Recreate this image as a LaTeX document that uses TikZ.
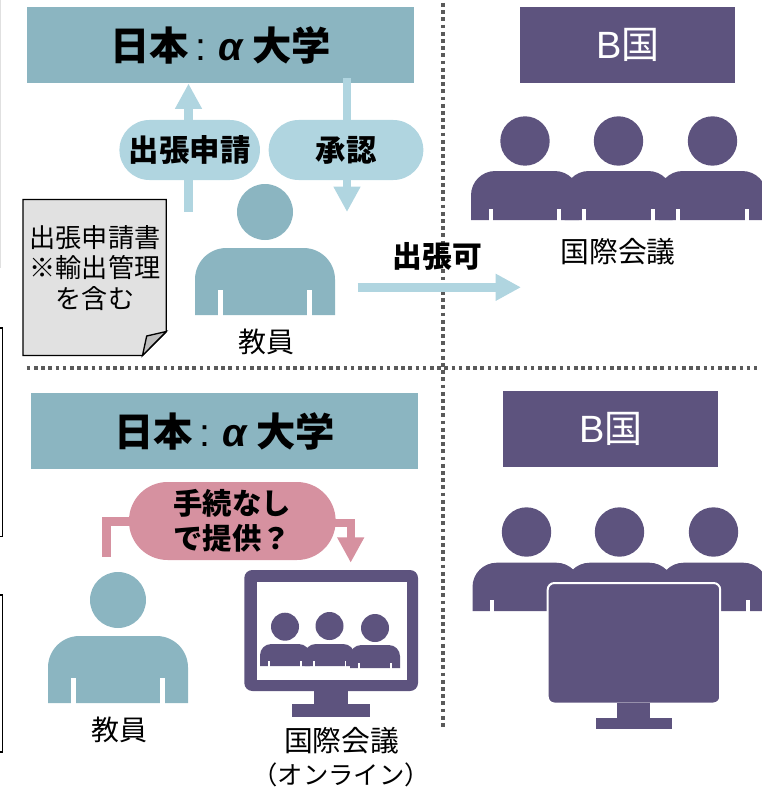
\documentclass[tikz,border=0pt]{standalone}
\usepackage{amsmath}
\usepackage{fontspec}
\usetikzlibrary{arrows.meta}
\setmainfont{Noto Sans CJK JP}
\newfontfamily\latinfont{Liberation Sans}
% cx, head y, head radius, body top, half width, body bottom, slit height, colour style
\newcommand{\personicon}[8]{%
\fill [#8] (#1,#2) circle (#3);
\fill [#8] ({#1-#5},#6) -- ({#1-#5},{#4+.45*#5}) .. controls ({#1-#5},{#4+.2*#5}) and ({#1-.8*#5},#4) .. ({#1-.55*#5},#4) -- ({#1+.55*#5},#4) .. controls ({#1+.8*#5},#4) and ({#1+#5},{#4+.2*#5}) .. ({#1+#5},{#4+.45*#5}) -- ({#1+#5},#6) -- cycle;
\fill [white] ({#1-.67*#5},{#6-#7}) rectangle ({#1-.6*#5},{#6+1});
\fill [white] ({#1+.6*#5},{#6-#7}) rectangle ({#1+.67*#5},{#6+1});
}
\begin{document}
\begin{tikzpicture}[x=0.75pt,y=0.75pt,yscale=-1,xscale=1,
  tealc/.style={fill={rgb, 255:red, 139; green, 181; blue, 193 }},
  purplec/.style={fill={rgb, 255:red, 93; green, 83; blue, 126 }},
  japanbox/.style={tealc,anchor=north west,inner sep=0pt,minimum width=290.25pt,minimum height=57pt,font=\fontsize{29.5}{32}\selectfont\bfseries},
  foreignbox/.style={purplec,anchor=north west,inner sep=0pt,minimum width=161.25pt,minimum height=57pt,text=white,font=\fontsize{28.5}{32}\selectfont},
  palepill/.style={fill={rgb, 255:red, 176; green, 213; blue, 224 },rounded corners=22.5pt,inner sep=0pt,minimum height=45pt,font=\fontsize{22.8}{27}\selectfont\bfseries},
  palearrow/.style={color={rgb, 255:red, 176; green, 213; blue, 224 },line width=6.3pt,-{Triangle[length=19pt,width=19pt]}},
  pinkline/.style={color={rgb, 255:red, 214; green, 145; blue, 160 },line width=6.3pt},
  plainlabel/.style={inner sep=0pt,align=center,font=\fontsize{21}{25}\selectfont},
  dotline/.style={color={rgb, 255:red, 90; green, 90; blue, 90 },line width=2.8pt,dash pattern=on 2.8pt off 2.6pt},
]
\useasboundingbox (0,0) rectangle (761,788);

%Shape: margin rules
\draw [color=black!12,line width=0.8pt] (0.5,0) -- (0.5,268) ;
\draw [line width=0.9pt] (0,328) -- (2.5,328) -- (2.5,536.5) -- (0,536.5) ;
\draw [line width=0.9pt] (0,595) -- (2.5,595) -- (2.5,752) -- (0,752) ;

%Shape: dividers
\draw [dotline] (443,3) -- (443,729) ;
\draw [dotline] (26.7,368.3) -- (757,368.3) ;

% Text Node
\node (japanTop) [japanbox] at (27,7) {日本{\latinfont\mdseries\,:} {\latinfont\itshape α} 大学};
% Text Node
\node (foreignTop) [foreignbox] at (520,7) {{\latinfont B}国};
% Text Node
\node (japanLow) [japanbox] at (31,393) {日本{\latinfont\mdseries\,:} {\latinfont\itshape α} 大学};
% Text Node
\node (foreignLow) [foreignbox] at (503,391) {{\latinfont B}国};

\coordinate (applyFoot) at (188.5,212) ;
\coordinate (approveTop) at (347,78) ;
\coordinate (approveTip) at (347,212) ;
\coordinate (tripFoot) at (357.7,287.3) ;
\coordinate (tripTip) at (521,287.3) ;
\coordinate (pinkFoot) at (106.3,556.7) ;
\coordinate (pinkBend) at (350.7,522.7) ;
\coordinate (pinkTip) at (350.7,562.7) ;

%Shape: arrows
\draw [palearrow] (applyFoot) -- (applyFoot |- japanTop.south) ;
\draw [palearrow] (approveTop) -- (approveTip) ;
\draw [palearrow] (tripFoot) -- (tripTip) ;
\draw [pinkline] (pinkFoot) |- (232,521.5) ;
\draw [pinkline,-{Triangle[length=19pt,width=19pt]}] (232,522.7) -- (pinkBend) -- (pinkTip) ;

% Text Node
\node (applyPill) [palepill,minimum width=105.4pt] at (189.7,150) {出張申請};
% Text Node
\node (approvePill) [palepill,minimum width=116pt] at (346,150) {承認};
% Text Node
\node (freePill) [palepill,fill={rgb, 255:red, 214; green, 145; blue, 160 },rounded corners=29pt,minimum width=155pt,minimum height=58.5pt,align=center,font=\fontsize{22}{26.5}\selectfont\bfseries] at (232.3,521) {手続なし\\で提供？};

%Shape: staff
\personicon{265}{212}{28}{248}{70}{315}{25}{tealc}
\personicon{118}{600}{28}{636}{70}{703}{25}{tealc}

%Shape: attendees upper
\personicon{525}{141}{24.7}{171}{54}{220}{11}{purplec}
\personicon{618.5}{141}{24.7}{171}{54}{220}{11}{purplec}
\personicon{712.5}{141}{24.7}{171}{54}{220}{11}{purplec}

%Shape: attendees lower
\personicon{526.5}{532}{24.7}{562.7}{54}{611}{11}{purplec}
\personicon{619.5}{532}{24.7}{562.7}{54}{611}{11}{purplec}
\personicon{713.5}{532}{24.7}{562.7}{54}{611}{11}{purplec}

%Shape: big monitor
\draw [purplec,draw=white,line width=1.5pt,rounded corners=5pt] (547.7,583) rectangle (720.2,703.5) ;
\fill [purplec] (617.3,703) rectangle (650,719) ;
\fill [purplec] (596,718.3) rectangle (671.7,729) ;

%Shape: small monitor
\fill [purplec,rounded corners=6pt] (244.3,570) rectangle (418,691) ;
\fill [white] (256.7,582.3) rectangle (406.7,680) ;
\fill [purplec] (313.7,690) rectangle (348.3,704) ;
\fill [purplec] (292,703.7) rectangle (370,717.3) ;
\personicon{285}{626.7}{14}{644}{25}{666}{5}{purplec}
\personicon{329.5}{626}{14}{644}{25}{666}{5}{purplec}
\personicon{375}{628}{14}{645}{25}{668}{5}{purplec}

%Shape: form sheet
\draw [fill={rgb, 255:red, 225; green, 225; blue, 225 },line width=1pt] (23,199.5) -- (166.3,199.5) -- (166.3,331.5) -- (142.5,355.5) -- (23,355.5) -- cycle ;
\draw [fill={rgb, 255:red, 190; green, 190; blue, 190 },line width=1pt] (142.5,355.5) -- (146.7,336) -- (166.3,331.5) -- cycle ;

% Text Node
\node (formText) [plainlabel,font=\fontsize{19.6}{23}\selectfont] at (95,268) {出張申請書\\※輸出管理\\を含む};
% Text Node
\node (staffTop) [plainlabel] at (266,341.5) {教員};
% Text Node
\node (staffLow) [plainlabel] at (119,730) {教員};
% Text Node
\node (tripLabel) [plainlabel,font=\fontsize{22.3}{26}\selectfont\bfseries] at (437.5,256) {出張可};
% Text Node
\node (confTop) [plainlabel,font=\fontsize{21.6}{25}\selectfont] at (618,252) {国際会議};
% Text Node
\node (confLow) [plainlabel,font=\fontsize{21.6}{25}\selectfont] at (341.7,741) {国際会議};
% Text Node
\node (confOnline) [plainlabel,font=\fontsize{19}{25}\selectfont] at (341,775) {（オンライン）};

\end{tikzpicture}
\end{document}
